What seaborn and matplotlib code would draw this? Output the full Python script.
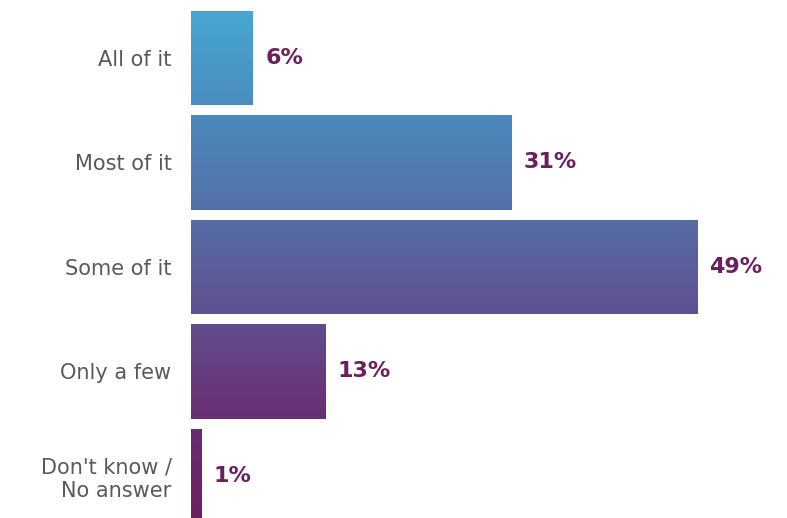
import numpy as np
import pandas as pd
import matplotlib
matplotlib.use("Agg")
import matplotlib.pyplot as plt
from matplotlib.colors import LinearSegmentedColormap
import seaborn as sns

categories = ["All of it", "Most of it", "Some of it", "Only a few", "Don't know /\nNo answer"]
shares = [6, 31, 49, 13, 1]

sns.set_theme(style="white")
plt.rcParams["font.family"] = ["DejaVu Sans"]

df = pd.DataFrame({"answer": categories, "share": shares})

fig = plt.figure(figsize=(7.87, 5.18), dpi=100)
ax = fig.add_axes([191 / 787, 0, 596 / 787, 1])

sns.barplot(data=df, y="answer", x="share", orient="h", width=0.9,
            color="#5a6aa0", ax=ax, saturation=1)

# vertical blue-to-plum gradient running across the whole set of bars
grad = LinearSegmentedColormap.from_list(
    "bluePlum",
    ["#46aad4", "#4a8dbf", "#5470a8", "#5f5290", "#692f73", "#6e1f62"])
g = np.linspace(0, 1, 256).reshape(-1, 1)
y0, y1 = -0.55, 4.4
for bar in ax.patches:
    im = ax.imshow(g, cmap=grad, aspect="auto", origin="upper",
                   extent=(0, 57.7, y1, y0), interpolation="bilinear", zorder=2)
    im.set_clip_path(bar)
    bar.set_facecolor("none")
    bar.set_edgecolor("none")
ax.set_xlim(0, 57.7)
ax.set_ylim(4.402, -0.555)

for i, v in enumerate(shares):
    ax.text(v + 1.2, i, f"{v}%", va="center", ha="left", fontsize=16,
            fontweight="bold", color="#6b1f5e")

ax.set_xlabel("")
ax.set_ylabel("")
ax.set_xticks([])
ax.tick_params(axis="y", length=0, pad=14, labelsize=15, labelcolor="#5a5a5a")
for lbl in ax.get_yticklabels():
    lbl.set_horizontalalignment("right")
sns.despine(ax=ax, left=True, bottom=True)

fig.savefig("out.png", dpi=100)
